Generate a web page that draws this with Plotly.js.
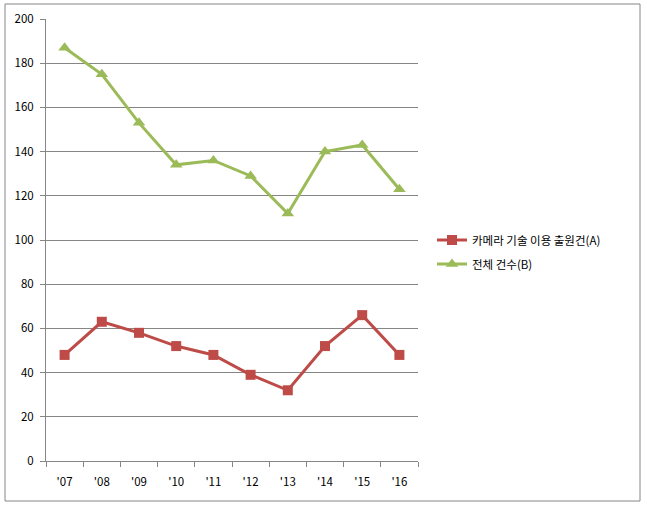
<!DOCTYPE html>
<html>
<head>
<meta charset="utf-8">
<script src="https://cdn.plot.ly/plotly-3.0.1.min.js"></script>
<style>html,body{margin:0;padding:0;background:#fff;}#chart{width:647px;height:508px;}</style>
</head>
<body>
<div id="chart"></div>
<script>
const categories = ["'07","'08","'09","'10","'11","'12","'13","'14","'15","'16"];
const cameraApps = [48, 63, 58, 52, 48, 39, 32, 52, 66, 48];
const totalApps = [187, 175, 153, 134, 136, 129, 112, 140, 143, 123];
const seriesNames = ["카메라 기술 이용 출원건(A)", "전체 건수(B)"];
const yTicks = [0, 20, 40, 60, 80, 100, 120, 140, 160, 180, 200];

const font = {family: "'Noto Sans CJK KR', 'Noto Sans', sans-serif", size: 11.5, color: "#000"};

const traces = [
  {
    x: categories, y: cameraApps, name: seriesNames[0], type: "scatter", mode: "lines+markers",
    legendgroup: "a",
    line: {color: "#BE4B48", width: 3},
    marker: {symbol: "square", size: 10, color: "#BE4B48"}
  },
  {
    x: categories, y: totalApps, name: seriesNames[1], type: "scatter", mode: "lines+markers",
    legendgroup: "b",
    line: {color: "#9BBB59", width: 3},
    marker: {symbol: "triangle-up", size: 11, color: "#9BBB59"}
  }
];

const L = 46, R = 418, T = 19, B = 461;
const px = v => (v - L) / (R - L);
const py = v => (B - v) / (B - T);

const layout = {
  width: 647, height: 508,
  margin: {l: L, r: 647 - R, t: T, b: 508 - B, pad: 0},
  paper_bgcolor: "#fff", plot_bgcolor: "#fff",
  font: font,
  showlegend: true,
  legend: {x: px(432), y: py(252), xanchor: "left", yanchor: "middle", font: font, bgcolor: "rgba(0,0,0,0)", tracegroupgap: 5, itemwidth: 30},
  xaxis: {
    type: "category", range: [-0.5, 9.5], tickson: "boundaries", ticks: "outside", ticklen: 5, tickcolor: "#868686",
    showline: true, linecolor: "#868686", linewidth: 1, showgrid: false, zeroline: false,
    tickfont: font, ticklabelstandoff: 10, fixedrange: true
  },
  yaxis: {
    range: [0, 200], tickvals: yTicks, ticks: "outside", ticklen: 5, tickcolor: "#868686",
    showline: true, linecolor: "#868686", linewidth: 1, showgrid: true, gridcolor: "#868686", gridwidth: 1,
    zeroline: false, tickfont: font, ticklabelstandoff: 4, fixedrange: true
  },
  shapes: [
    {type: "rect", xref: "paper", yref: "paper", x0: px(5), x1: px(640), y0: py(501), y1: py(4),
     line: {color: "#868686", width: 1}, fillcolor: "rgba(0,0,0,0)", layer: "below"}
  ]
};

Plotly.newPlot("chart", traces, layout, {displayModeBar: false, staticPlot: true});
</script>
</body>
</html>
